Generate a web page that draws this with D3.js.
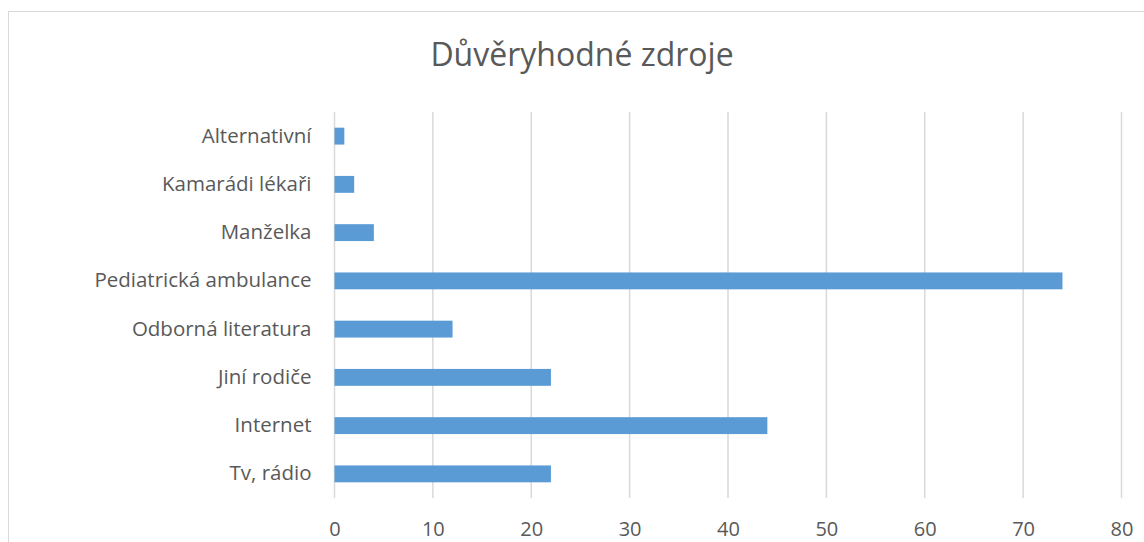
<!DOCTYPE html>
<html>
<head>
<meta charset="utf-8">
<script src="https://cdn.jsdelivr.net/npm/d3@7"></script>
<style>
  body { margin: 0; background: #fff; }
  svg text { font-family: "Open Sans", Lato, sans-serif; fill: #595959; }
</style>
</head>
<body>
<div id="myPlot"></div>
<script>
const categories = ["Alternativní", "Kamarádi lékaři", "Manželka", "Pediatrická ambulance",
  "Odborná literatura", "Jiní rodiče", "Internet", "Tv, rádio"];
const values = [1, 2, 4, 74, 12, 22, 44, 22];
const xTicks = [0, 10, 20, 30, 40, 50, 60, 70, 80];
const chartTitle = "Důvěryhodné zdroje";

const width = 1144, height = 542;
const plotLeft = 334.5, plotRight = 1121.5, plotTop = 112, plotBottom = 498;

const svg = d3.select("#myPlot").append("svg")
  .attr("width", width)
  .attr("height", height);

// chart frame (cut off at right / bottom like the original)
svg.append("rect")
  .attr("x", 8.5).attr("y", 11.5)
  .attr("width", 1150).attr("height", 560)
  .attr("fill", "none")
  .attr("stroke", "#d9d9d9")
  .attr("stroke-width", 1);

const x = d3.scaleLinear().domain([0, 80]).range([plotLeft, plotRight]);
const y = d3.scaleBand().domain(categories).range([plotTop, plotBottom]).paddingInner(0.65).paddingOuter(0.325);

// gridlines
svg.append("g")
  .selectAll("line")
  .data(xTicks)
  .enter()
  .append("line")
  .attr("x1", (d) => x(d)).attr("x2", (d) => x(d))
  .attr("y1", plotTop).attr("y2", plotBottom)
  .attr("stroke", "#d9d9d9")
  .attr("stroke-width", 1.5);

// bars
svg.selectAll(".bar")
  .data(values)
  .enter()
  .append("rect")
  .attr("class", "bar")
  .attr("x", x(0))
  .attr("y", (d, i) => y(categories[i]))
  .attr("width", (d) => x(d) - x(0))
  .attr("height", y.bandwidth())
  .attr("fill", "#5b9bd5");

// x axis labels
const xAxis = svg.append("g")
  .attr("transform", "translate(0," + plotBottom + ")")
  .call(d3.axisBottom(x).tickValues(xTicks).tickSize(0).tickPadding(24));
xAxis.select(".domain").remove();
xAxis.selectAll("text").style("font-size", "20px").attr("fill", "#595959");

// y axis labels
const yAxis = svg.append("g")
  .attr("transform", "translate(" + plotLeft + ",0)")
  .call(d3.axisLeft(y).tickSize(0).tickPadding(23));
yAxis.select(".domain").remove();
yAxis.selectAll("text").style("font-size", "20.5px").attr("fill", "#595959");

svg.append("text")
  .attr("x", 582)
  .attr("y", 66)
  .attr("text-anchor", "middle")
  .style("font-size", "32px")
  .text(chartTitle);
</script>
</body>
</html>
